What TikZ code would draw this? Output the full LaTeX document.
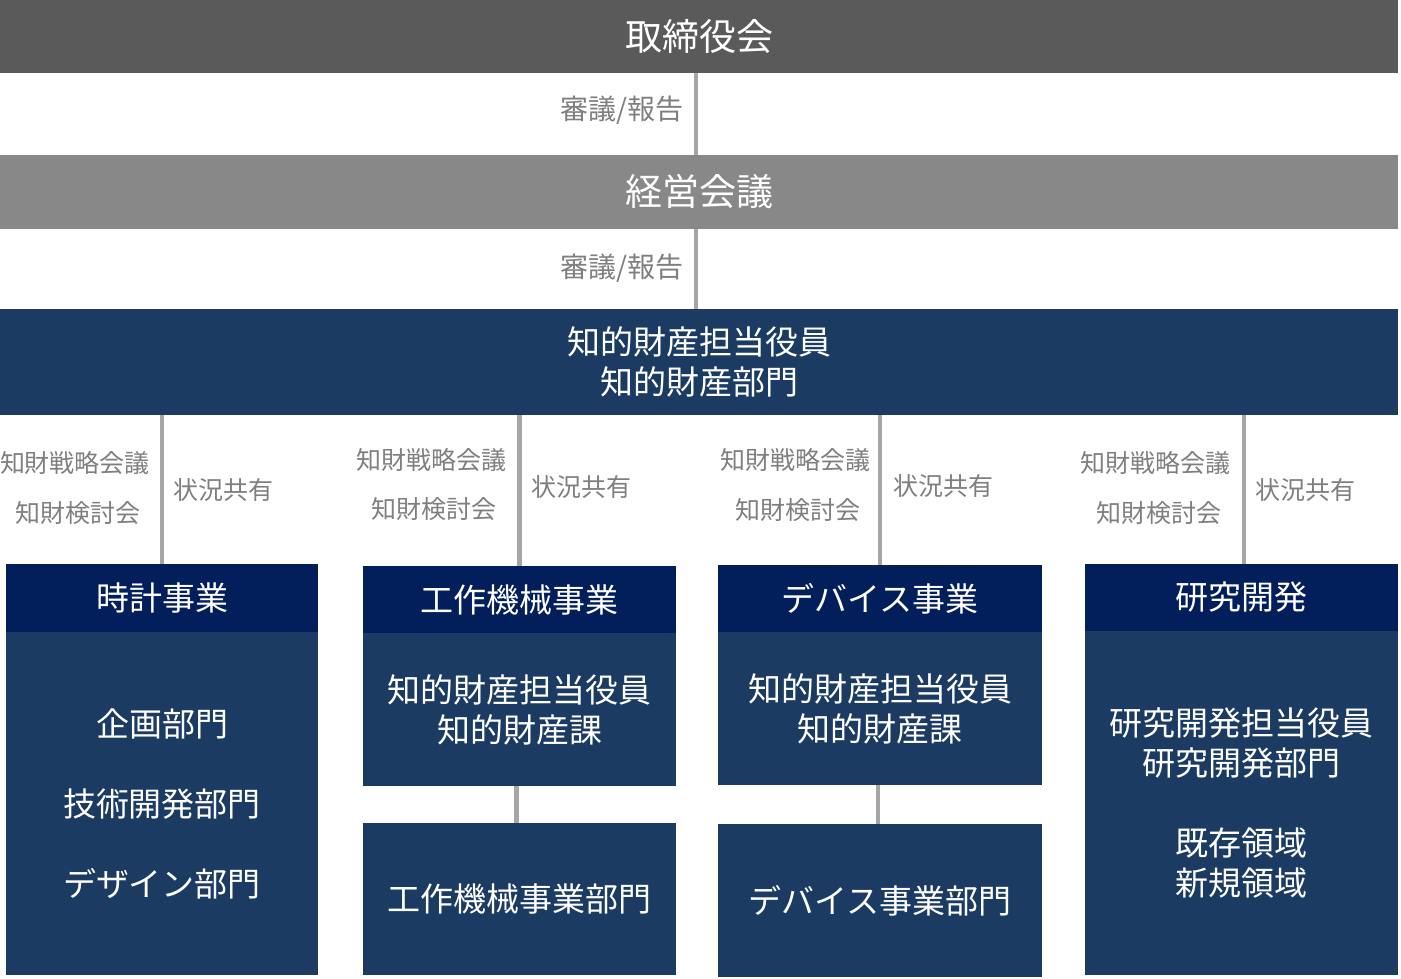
\documentclass[tikz,border=0pt]{standalone}
\usepackage{fontspec}
\setmainfont{Noto Sans CJK JP}
\definecolor{barA}{HTML}{5A5A5A}
\definecolor{barB}{HTML}{888888}
\definecolor{navy}{HTML}{1B3B63}
\definecolor{navyD}{HTML}{021F5B}
\definecolor{lineg}{HTML}{A6A6A6}
\definecolor{labg}{HTML}{7F7F7F}
\begin{document}
\begin{tikzpicture}[x=1pt,y=-1pt,
  box/.style={rectangle, inner sep=0pt, outer sep=0pt, text=white, align=center, font=\fontsize{33}{40}\selectfont},
  bigbar/.style={box, minimum width=1398pt, font=\fontsize{37}{44}\selectfont},
  hdr/.style={box, fill=navyD},
  body/.style={box, fill=navy},
  conn/.style={draw=lineg, line width=4.5pt},
  lab/.style={text=labg, inner sep=0pt, font=\fontsize{25}{30}\selectfont},
  toplab/.style={text=labg, inner sep=0pt, font=\fontsize{28}{32}\selectfont}]
\useasboundingbox (0,0) rectangle (1401,978);

% top bars
\node[bigbar, fill=barA, minimum height=73pt] (board) at (699,36.5) {取締役会};
\node[bigbar, fill=barB, minimum height=74pt] (mgmt) at (699,192) {経営会議};
\node[box, fill=navy, minimum width=1398pt, minimum height=106pt] (ip) at (699,362) {知的財産担当役員\\知的財産部門};

\draw[conn] ([xshift=-3pt]board.south) -- ([xshift=-3pt]mgmt.north);
\draw[conn] ([xshift=-3pt]mgmt.south) -- ([xshift=-3pt]ip.north);
\node[toplab, anchor=east] (r1) at (684,110) {審議/報告};
\node[toplab, anchor=east] (r2) at (684,268) {審議/報告};

% box 1
\node[hdr, minimum width=312pt, minimum height=68pt] (h1) at (162,598) {時計事業};
\node[body, minimum width=312pt, minimum height=343pt, font=\fontsize{33}{80}\selectfont] (b1) at (162,803.5) {企画部門\\技術開発部門\\デザイン部門};

% box 2
\node[hdr, minimum width=313pt, minimum height=67pt] (h2) at (519.5,599.5) {工作機械事業};
\node[body, minimum width=313pt, minimum height=153pt] (b2a) at (519.5,709.5) {知的財産担当役員\\知的財産課};
\node[body, minimum width=313pt, minimum height=152pt] (b2b) at (519.5,899) {工作機械事業部門};

% box 3
\node[hdr, minimum width=324pt, minimum height=67pt] (h3) at (880,598.5) {デバイス事業};
\node[body, minimum width=324pt, minimum height=153pt] (b3a) at (880,708.5) {知的財産担当役員\\知的財産課};
\node[body, minimum width=324pt, minimum height=153pt] (b3b) at (880,900.5) {デバイス事業部門};

% box 4
\node[hdr, minimum width=313pt, minimum height=67pt] (h4) at (1241.5,597.5) {研究開発};
\node[body, minimum width=313pt, minimum height=344pt] (b4) at (1241.5,803) {研究開発担当役員\\研究開発部門\\[40pt]既存領域\\新規領域};

% connectors
\draw[conn] (h1.north) -- (h1.north |- ip.south);
\draw[conn] (h2.north) -- (h2.north |- ip.south);
\draw[conn] (h3.north) -- (h3.north |- ip.south);
\draw[conn] ([xshift=2.5pt]h4.north) -- ([xshift=2.5pt]h4.north |- ip.south);
\draw[conn] ([xshift=-3pt]b2a.south) -- ([xshift=-3pt]b2b.north);
\draw[conn] ([xshift=-2pt]b3a.south) -- ([xshift=-2pt]b3b.north);

% labels
\node[lab] (s1) at (75,463) {知財戦略会議};
\node[lab] (k1) at (78,513) {知財検討会};
\node[lab] (j1) at (223,490) {状況共有};
\node[lab] (s2) at (431,460) {知財戦略会議};
\node[lab] (k2) at (434,509) {知財検討会};
\node[lab] (j2) at (581,487) {状況共有};
\node[lab] (s3) at (795,460) {知財戦略会議};
\node[lab] (k3) at (798,510) {知財検討会};
\node[lab] (j3) at (943,486) {状況共有};
\node[lab] (s4) at (1155,463) {知財戦略会議};
\node[lab] (k4) at (1159,513) {知財検討会};
\node[lab] (j4) at (1305,490) {状況共有};
\end{tikzpicture}
\end{document}
